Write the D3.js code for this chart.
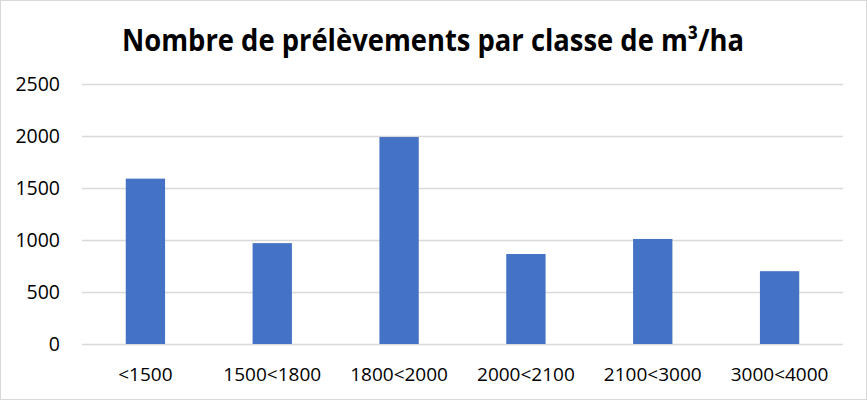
<!doctype html>
<html>
<head>
<style>
  body { margin: 0; background: #fff; }
  svg { display: block; font-family: "Open Sans", "Liberation Sans", sans-serif; }
  .grid line { stroke: #d9d9d9; stroke-width: 1.3; }
  .grid .domain { display: none; }
</style>
<script src="https://d3js.org/d3.v7.min.js"></script>
</head>
<body>
<svg width="867" height="400"></svg>
<script>
var categories = ["<1500", "1500<1800", "1800<2000", "2000<2100", "2100<3000", "3000<4000"];
var values = [1590, 970, 1990, 865, 1010, 700];
var yTicks = [0, 500, 1000, 1500, 2000, 2500];

var svg = d3.select("svg"),
    width = +svg.attr("width"),
    height = +svg.attr("height");

// chart frame
svg.append("rect")
   .attr("x", 0.5).attr("y", 0.5)
   .attr("width", width - 1).attr("height", height - 1)
   .attr("fill", "#fff").attr("stroke", "#d9d9d9");

var plotLeft = 82, plotRight = 843, plotTop = 84, plotBottom = 344;

var xScale = d3.scaleBand().domain(categories).range([plotLeft, plotRight])
      .paddingInner(0.69).paddingOuter(0.345),
    yScale = d3.scaleLinear().domain([0, 2500]).range([plotBottom, plotTop]);

svg.append("text")
   .attr("x", 433)
   .attr("y", 51)
   .attr("text-anchor", "middle")
   .attr("font-size", "30px")
   .attr("font-weight", "bold")
   .attr("textLength", 622)
   .attr("lengthAdjust", "spacingAndGlyphs")
   .text("Nombre de prélèvements par classe de m³/ha");

// gridlines
svg.append("g")
   .attr("class", "grid")
   .attr("transform", "translate(" + plotLeft + ",0)")
   .call(d3.axisRight(yScale).tickValues(yTicks).tickSize(plotRight - plotLeft).tickFormat(""));

// y labels
svg.append("g")
   .selectAll("text")
   .data(yTicks).enter()
   .append("text")
   .attr("x", 60)
   .attr("y", function(d) { return yScale(d); })
   .attr("dy", "0.35em")
   .attr("text-anchor", "end")
   .attr("font-size", "19.5px")
   .attr("fill", "#000")
   .text(function(d) { return d; });

// x labels
svg.append("g")
   .selectAll("text")
   .data(categories).enter()
   .append("text")
   .attr("x", function(d) { return xScale(d) + xScale.bandwidth() / 2; })
   .attr("y", 381)
   .attr("text-anchor", "middle")
   .attr("font-size", "19px")
   .attr("fill", "#000")
   .text(function(d) { return d; });

svg.selectAll(".bar")
   .data(values).enter()
   .append("rect")
   .attr("class", "bar")
   .attr("x", function(d, i) { return xScale(categories[i]); })
   .attr("y", function(d) { return yScale(d); })
   .attr("width", xScale.bandwidth())
   .attr("height", function(d) { return plotBottom - yScale(d); })
   .attr("fill", "#4472c4");
</script>
</body>
</html>
